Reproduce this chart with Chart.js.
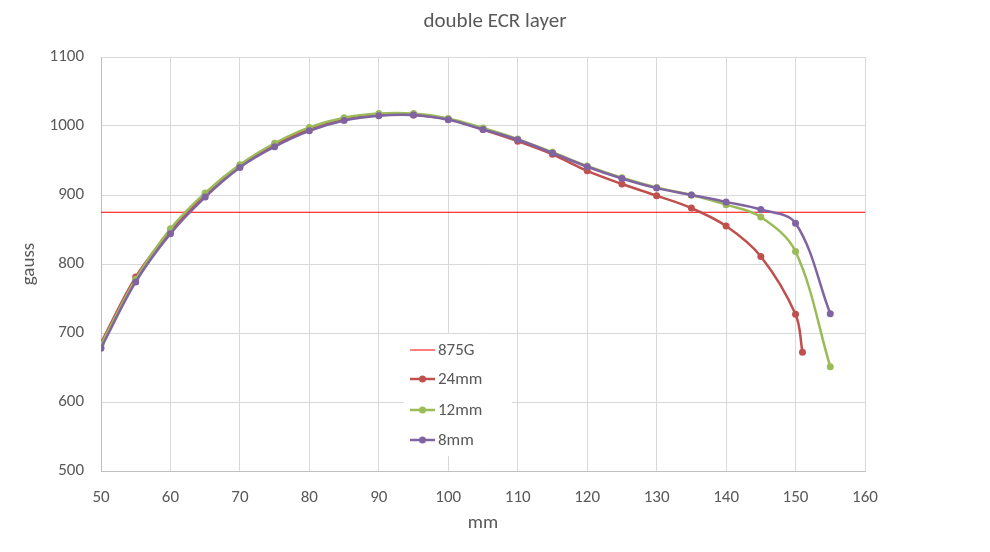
<!DOCTYPE html>
<html>
<head>
<meta charset="utf-8">
<script src="https://cdn.jsdelivr.net/npm/chart.js@4"></script>
<style>
html,body{margin:0;padding:0;background:#fff;}
#wrap{width:990px;height:552px;position:relative;}
</style>
</head>
<body>
<div id="wrap"><canvas id="c" width="990" height="552"></canvas></div>
<script>
const xMain = [50,55,60,65,70,75,80,85,90,95,100,105,110,115,120,125,130,135,140,145,150];
const x24 = xMain.concat([151]);
const x12 = xMain.concat([155]);
const x8 = xMain.concat([155]);
const y24 = [686,781,848,901,942,972,996,1010,1016,1016,1010,995,978,959,935,916,899,881,855,811,727,672];
const y12 = [683,778,851,903,944,975,998,1012,1018,1018,1011,997,981,962,942,925,911,900,886,868,818,651];
const y8  = [678,774,844,897,940,970,993,1008,1015,1016,1009,995,980,961,941,924,910,900,890,879,859,728];
const refX = [50,160];
const refY = [875,875];
const xTicks = [50,60,70,80,90,100,110,120,130,140,150,160];
const yTicks = [500,600,700,800,900,1000,1100];

const FONT = "Carlito, Calibri, Lato, sans-serif";
const TXT = '#595959';

function pts(xs, ys){ return xs.map((x,i)=>({x:x,y:ys[i]})); }

const legendPlugin = {
  id:'insideLegend',
  afterDatasetsDraw(chart){
    const ctx = chart.ctx;
    const items = chart.data.datasets;
    const bx = 404, by = 334, bw = 108, bh = 122;
    ctx.save();
    ctx.fillStyle = '#fff';
    ctx.fillRect(bx, by, bw, bh);
    const rows = [350, 379, 410, 440];
    ctx.font = "17px " + FONT;
    ctx.textBaseline = 'middle';
    items.forEach((ds,i)=>{
      const y = rows[i];
      ctx.strokeStyle = ds.borderColor;
      ctx.lineWidth = ds.borderWidth;
      ctx.beginPath(); ctx.moveTo(410,y); ctx.lineTo(435,y); ctx.stroke();
      if (ds.pointRadius > 0){
        ctx.fillStyle = ds.backgroundColor;
        ctx.beginPath(); ctx.arc(422.5,y,3.5,0,Math.PI*2); ctx.fill();
      }
      ctx.fillStyle = TXT;
      ctx.textAlign = 'left';
      ctx.fillText(ds.label, 438, y+1);
    });
    ctx.restore();
  }
};

const titlePlugin = {
  id:'topTitle',
  afterDraw(chart){
    const ctx = chart.ctx;
    ctx.save();
    ctx.font = "21px " + FONT;
    ctx.fillStyle = TXT;
    ctx.textAlign = 'center';
    ctx.textBaseline = 'middle';
    ctx.fillText('double ECR layer', 495, 22);
    ctx.restore();
  }
};

new Chart(document.getElementById('c'), {
  type:'line',
  data:{
    datasets:[
      {label:'875G', data:pts(refX,refY), borderColor:'#FF0000', backgroundColor:'#FF0000', borderWidth:1, pointRadius:0, tension:0, order:4},
      {label:'24mm', data:pts(x24,y24), borderColor:'#C0504D', backgroundColor:'#C0504D', borderWidth:2.5, pointRadius:3.5, pointBorderWidth:0, tension:0.35, order:3},
      {label:'12mm', data:pts(x12,y12), borderColor:'#9BBB59', backgroundColor:'#9BBB59', borderWidth:2.5, pointRadius:3.5, pointBorderWidth:0, tension:0.35, order:2},
      {label:'8mm', data:pts(x8,y8), borderColor:'#8064A2', backgroundColor:'#8064A2', borderWidth:2.5, pointRadius:3.5, pointBorderWidth:0, tension:0.35, order:1}
    ]
  },
  options:{
    responsive:false,
    animation:false,
    layout:{padding:{top:57,left:0,right:125,bottom:0}},
    plugins:{legend:{display:false}, title:{display:false}, tooltip:{enabled:false}},
    scales:{
      x:{
        type:'linear', min:50, max:160,
        afterBuildTicks(s){ s.ticks = xTicks.map(v=>({value:v})); },
        afterFit(s){ s.height = 81; },
        grid:{color:'#d9d9d9', drawTicks:false},
        border:{color:'#bfbfbf'},
        ticks:{color:TXT, padding:17, font:{family:FONT, size:17}, maxRotation:0, callback:(v)=>String(v)},
        title:{display:true, text:'mm', color:TXT, font:{family:FONT, size:19}, padding:{top:0,bottom:17}}
      },
      y:{
        type:'linear', min:500, max:1100,
        afterBuildTicks(s){ s.ticks = yTicks.map(v=>({value:v})); },
        afterFit(s){ s.width = 101; },
        grid:{color:'#d9d9d9', drawTicks:false},
        border:{color:'#bfbfbf'},
        ticks:{color:TXT, padding:17, font:{family:FONT, size:17}, callback:(v)=>String(v)},
        title:{display:true, text:'gauss', color:TXT, font:{family:FONT, size:19}, padding:{top:18,bottom:0}}
      }
    }
  },
  plugins:[legendPlugin, titlePlugin]
});
</script>
</body>
</html>
